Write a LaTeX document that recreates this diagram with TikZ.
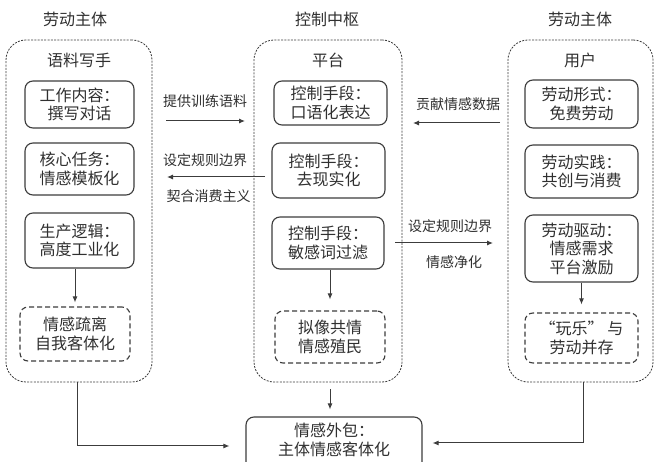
\documentclass[tikz,border=0pt]{standalone}
\usepackage{fontspec}
\setmainfont{Noto Sans CJK SC}
\usetikzlibrary{arrows.meta,calc}
\definecolor{ln}{HTML}{3C3C3C}
\definecolor{tx}{HTML}{303030}
\begin{document}
\begin{tikzpicture}[x=1pt,y=-1pt,
  outerbox/.style={draw=ln,line width=0.8pt,dash pattern=on 2pt off 1.3pt,rounded corners=20pt,inner sep=0pt},
  solidbox/.style={draw=ln,line width=1.1pt,rounded corners=8pt,align=center,text=tx,inner sep=0pt,font=\fontsize{16}{18.5}\selectfont},
  dashbox/.style={solidbox,dash pattern=on 5pt off 3pt},
  ttl/.style={text=tx,inner sep=0pt,font=\fontsize{16}{19}\selectfont},
  lab/.style={text=tx,inner sep=0pt,font=\fontsize{14}{16}\selectfont},
  arr/.style={draw=ln,line width=1pt,-{Latex[length=6pt,width=5pt]}}]
\fill[white] (0,0) rectangle (654,462);
\useasboundingbox (0,0) rectangle (654,462);

% titles
\node[ttl] (tL) at (75,19) {劳动主体};
\node[ttl] (tM) at (327,19) {控制中枢};
\node[ttl] (tR) at (580,19) {劳动主体};

% outer dashed boxes
\node[outerbox,minimum width=146pt,minimum height=342pt] (outerL) at (79,211) {};
\node[outerbox,minimum width=148pt,minimum height=342pt] (outerM) at (328,211) {};
\node[outerbox,minimum width=145pt,minimum height=342pt] (outerR) at (580.5,211) {};

\node[ttl] (sL) at (79,60) {语料写手};
\node[ttl] (sM) at (328,60) {平台};
\node[ttl] (sR) at (580,60) {用户};

% left column
\node[solidbox,minimum width=109pt,minimum height=47pt] (L1) at (79.5,104.5) {工作内容：\\撰写对话};
\node[solidbox,minimum width=109pt,minimum height=52pt] (L2) at (79.5,169) {核心任务：\\情感模板化};
\node[solidbox,minimum width=109pt,minimum height=55pt] (L3) at (79.5,240.5) {生产逻辑：\\高度工业化};
\node[dashbox,minimum width=110pt,minimum height=54pt] (L4) at (75,334) {情感疏离\\自我客体化};

% middle column
\node[solidbox,minimum width=113pt,minimum height=44pt] (M1) at (330.5,103) {控制手段：\\口语化表达};
\node[solidbox,minimum width=113pt,minimum height=55pt] (M2) at (328.5,170.5) {控制手段：\\去现实化};
\node[solidbox,minimum width=112pt,minimum height=52pt] (M3) at (328,243) {控制手段：\\敏感词过滤};
\node[dashbox,minimum width=110pt,minimum height=52pt] (M4) at (330,337) {拟像共情\\情感殖民};

% right column
\node[solidbox,minimum width=113pt,minimum height=48pt] (R1) at (581.5,104) {劳动形式：\\免费劳动};
\node[solidbox,minimum width=113pt,minimum height=53pt] (R2) at (581.5,171.5) {劳动实践：\\共创与消费};
\node[solidbox,minimum width=113pt,minimum height=67pt] (R3) at (581.5,248.5) {劳动驱动：\\情感需求\\平台激励};
\node[dashbox,minimum width=113pt,minimum height=50pt] (R4) at (581.5,338) {“玩乐”\ 与\\劳动并存};

% bottom box
\node[solidbox,minimum width=176pt,minimum height=54pt] (B) at (334,444) {};
\node[ttl,align=center] (Bt) at (334,440) {情感外包：\\主体情感客体化};

% inner arrows
\draw[arr] (L4.north |- L3.south) -- ([yshift=4pt]L4.north);
\draw[arr] (M4.north |- M3.south) -- ([yshift=11pt]M4.north);
\draw[arr] (R3.south) -- ([yshift=8pt]R4.north);

% to bottom box
\coordinate (mS) at ($(outerM.south)+(2,0)$);
\coordinate (lS) at ($(outerL.south)+(-2,0)$);
\coordinate (rS) at ($(outerR.south)+(2.5,0)$);
\coordinate (bW) at ($(B.west)+(0,2)$);
\coordinate (bE) at ($(B.east)+(0,-1)$);
\draw[arr,shorten <=7pt,shorten >=7pt] (mS) -- (mS |- B.north);
\draw[arr,shorten >=16pt] (lS) |- (bW);
\draw[arr,shorten >=10pt] (rS) |- (bE);

% between columns
\coordinate (a1s) at (166,121); \coordinate (a1e) at (245,121);
\coordinate (a2s) at (265,177); \coordinate (a2e) at (167,177);
\coordinate (a3s) at (500,123); \coordinate (a3e) at (413,123);
\coordinate (a4s) at (395,243); \coordinate (a4e) at (493,243);
\draw[arr] (a1s) -- (a1e);
\draw[arr] (a2s) -- (a2e);
\draw[arr] (a3s) -- (a3e);
\draw[arr] (a4s) -- (a4e);

\node[lab] (l1) at (205,101) {提供训练语料};
\node[lab] (l2) at (205,160) {设定规则边界};
\node[lab] (l3) at (208.5,196) {契合消费主义};
\node[lab] (l4) at (458,104) {贡献情感数据};
\node[lab] (l5) at (450,226) {设定规则边界};
\node[lab] (l6) at (454,262) {情感净化};
\end{tikzpicture}
\end{document}
